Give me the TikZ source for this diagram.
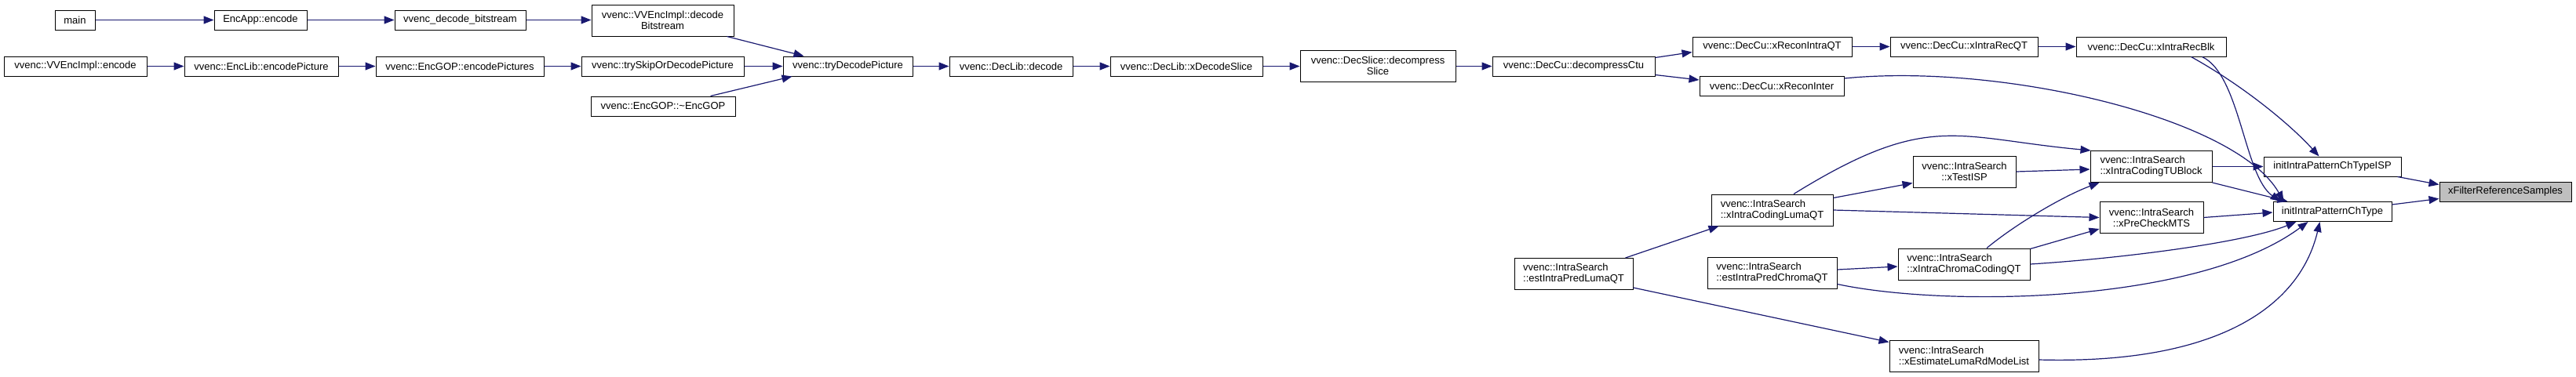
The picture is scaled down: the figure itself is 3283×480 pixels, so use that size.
\documentclass[tikz,border=0pt]{standalone}
\usepackage{fontspec}
\setmainfont{Liberation Sans}
\usetikzlibrary{arrows.meta,calc}
\definecolor{edgeblue}{HTML}{191970}
\definecolor{filtgray}{HTML}{BFBFBF}
\begin{document}
\begin{tikzpicture}[x=1pt,y=-1pt,
 fn/.style={draw=black,line width=1pt,fill=white,inner sep=0pt,minimum height=25pt,font=\fontsize{13}{14}\selectfont},
 fnc/.style={fn,minimum height=40pt,align=center},
 fnl/.style={fn,minimum height=40pt,align=left},
 conn/.style={draw=edgeblue,line width=1.2pt,-{Triangle[length=13pt,width=10pt]}}]
\useasboundingbox (0,0) rectangle (3283,480);
% nodes
\node[fn,minimum width=51pt] (main) at (95.5,25.5) {main};
\node[fn,minimum width=118pt] (encapp) at (332,25.5) {EncApp::encode};
\node[fn,minimum width=167pt] (decbs) at (586.5,25.5) {vvenc\_decode\_bitstream};
\node[fnc,minimum width=181pt] (implDecBs) at (844.5,26) {vvenc::VVEncImpl::decode\\Bitstream};
\node[fn,minimum width=182pt] (implEnc) at (96,84.5) {vvenc::VVEncImpl::encode};
\node[fn,minimum width=196pt] (encPic) at (333,84.5) {vvenc::EncLib::encodePicture};
\node[fn,minimum width=214pt] (encPics) at (586,84.5) {vvenc::EncGOP::encodePictures};
\node[fn,minimum width=207pt] (trySkip) at (844.5,84.5) {vvenc::trySkipOrDecodePicture};
\node[fn,minimum width=184pt] (encgopd) at (845,135.5) {vvenc::EncGOP::\textasciitilde EncGOP};
\node[fn,minimum width=165pt] (tryDec) at (1080.5,84.5) {vvenc::tryDecodePicture};
\node[fn,minimum width=157pt] (decode) at (1288.5,84.5) {vvenc::DecLib::decode};
\node[fn,minimum width=194pt] (xDecSlice) at (1512,84.5) {vvenc::DecLib::xDecodeSlice};
\node[fnc,minimum width=198pt] (decSlice) at (1756,84) {vvenc::DecSlice::decompress\\Slice};
\node[fn,minimum width=207pt] (decCtu) at (2005.5,84.5) {vvenc::DecCu::decompressCtu};
\node[fn,minimum width=203pt] (reconIntra) at (2258.5,59.5) {vvenc::DecCu::xReconIntraQT};
\node[fn,minimum width=188pt] (intraRecQT) at (2503,59.5) {vvenc::DecCu::xIntraRecQT};
\node[fn,minimum width=191pt] (intraRecBlk) at (2741.5,59.5) {vvenc::DecCu::xIntraRecBlk};
\node[fn,minimum width=184pt] (reconInter) at (2258,110) {vvenc::DecCu::xReconInter};
\node[fnl,minimum width=155pt] (tuBlock) at (2741.5,212.5) {vvenc::IntraSearch\\::xIntraCodingTUBlock};
\node[fnc,minimum width=131pt] (testISP) at (2503.5,219) {vvenc::IntraSearch\\::xTestISP};
\node[fnl,minimum width=155pt] (lumaQT) at (2258.5,268) {vvenc::IntraSearch\\::xIntraCodingLumaQT};
\node[fnc,minimum width=132pt] (preMTS) at (2742,277.5) {vvenc::IntraSearch\\::xPreCheckMTS};
\node[fnl,minimum width=168pt] (chromaQT) at (2503,337) {vvenc::IntraSearch\\::xIntraChromaCodingQT};
\node[fnl,minimum width=165pt] (estChroma) at (2258.5,348) {vvenc::IntraSearch\\::estIntraPredChromaQT};
\node[fnl,minimum width=151pt] (estLuma) at (2005.5,349.5) {vvenc::IntraSearch\\::estIntraPredLumaQT};
\node[fnl,minimum width=190pt] (estRd) at (2503,454) {vvenc::IntraSearch\\::xEstimateLumaRdModeList};
\node[fn,minimum width=175pt] (ispType) at (2972.5,212.5) {initIntraPatternChTypeISP};
\node[fn,minimum width=151pt] (patType) at (2972.5,270) {initIntraPatternChType};
\node[fn,minimum width=168pt,fill=filtgray] (filt) at (3193,244.5) {xFilterReferenceSamples};
% edges
\draw[conn] (main) -- (encapp);
\draw[conn] (encapp) -- (decbs);
\draw[conn] (decbs.east) -- (decbs.east -| implDecBs.west);
\draw[conn] ($(implDecBs.south east)+(-9,0)$) -- ($(tryDec.north west)+(27,0)$);
\draw[conn] (implEnc) -- (encPic);
\draw[conn] (encPic) -- (encPics);
\draw[conn] (encPics) -- (trySkip);
\draw[conn] (trySkip) -- (tryDec);
\draw[conn] ($(encgopd.north east)+(-32,0)$) -- ($(tryDec.south west)+(12,0)$);
\draw[conn] (tryDec) -- (decode);
\draw[conn] (decode) -- (xDecSlice);
\draw[conn] (xDecSlice.east) -- (xDecSlice.east -| decSlice.west);
\draw[conn] (decSlice.east |- decCtu.west) -- (decCtu.west);
\draw[conn] ($(decCtu.north east)+(0,2)$) -- ($(reconIntra.south west)+(0,-6)$);
\draw[conn] ($(decCtu.south east)+(0,-2)$) -- ($(reconInter.north west)+(0,5)$);
\draw[conn] (reconIntra) -- (intraRecQT);
\draw[conn] (intraRecQT) -- (intraRecBlk);
\draw[conn] ($(intraRecBlk.south)+(51,0)$) .. controls (2860,110) and (2920,160) .. ($(ispType.north)+(-17,0)$);
\draw[conn] ($(intraRecBlk.south)+(65,0)$) .. controls (2855,95) and (2860,225) .. ($(patType.north west)+(10,0)$);
\draw[conn] ($(reconInter.east)+(0,-10)$) .. controls (2550,80) and (2850,150) .. ($(patType.north west)+(14,0)$);
\draw[conn] (tuBlock.east) -- (ispType.west);
\draw[conn] (tuBlock.south east) -- ($(patType.north west)+(19,0)$);
\draw[conn] (testISP.east) -- ($(tuBlock.west)+(0,3.5)$);
\draw[conn] ($(lumaQT.north east)+(0,5)$) -- ($(testISP.south west)+(0,-6)$);
\draw[conn] ($(lumaQT.north)+(27.5,0)$) .. controls (2458,141) and (2492,176) .. ($(tuBlock.north west)+(1,0)$);
\draw[conn] (lumaQT.east) -- (preMTS.west);
\draw[conn] (preMTS.east) -- ($(patType.west)+(0,1)$);
\draw[conn] ($(chromaQT.north)+(29,0)$) .. controls (2570,285) and (2630,250) .. ($(tuBlock.south west)+(12,0)$);
\draw[conn] ($(chromaQT.north east)+(0,1)$) -- ($(preMTS.south west)+(0,-6)$);
\draw[conn] (chromaQT.east) .. controls (2700,330) and (2860,310) .. ($(patType.south west)+(30,0)$);
\draw[conn] ($(estChroma.east)+(0,-4)$) -- ($(chromaQT.west)+(0,3)$);
\draw[conn] ($(estChroma.south east)+(0,-6)$) .. controls (2480,392) and (2800,388) .. ($(patType.south west)+(45,0)$);
\draw[conn] ($(estLuma.north east)+(-10,0)$) -- ($(lumaQT.south west)+(10,0)$);
\draw[conn] ($(estLuma.south east)+(0,-3)$) -- ($(estRd.north west)+(0,3)$);
\draw[conn] ($(estRd.east)+(0,5)$) .. controls (2820,465) and (2930,395) .. ($(patType.south west)+(60,0)$);
\draw[conn] ($(ispType.south east)+(-5,0)$) -- ($(filt.north west)+(0,4)$);
\draw[conn] ($(patType.north east)+(0,4)$) -- ($(filt.south west)+(0,-4)$);
\end{tikzpicture}
\end{document}
